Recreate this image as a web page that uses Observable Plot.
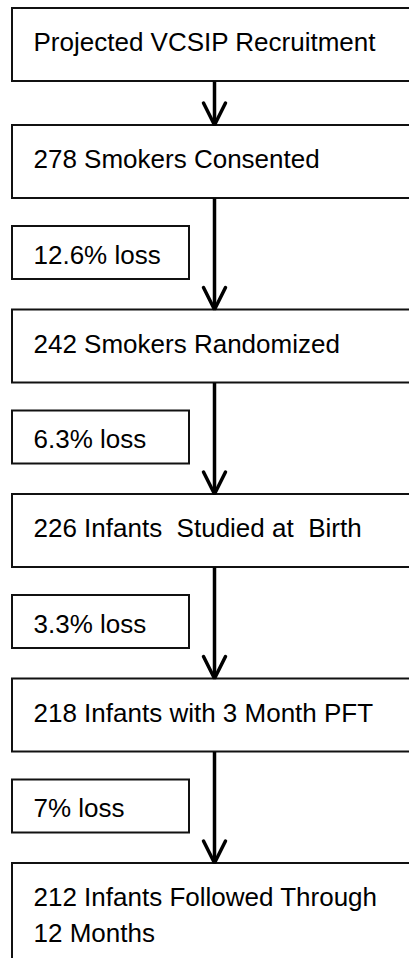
<!DOCTYPE html>
<html>
<head>
<meta charset="utf-8">
<script src="https://cdn.jsdelivr.net/npm/d3@7"></script>
<script src="https://cdn.jsdelivr.net/npm/@observablehq/plot@0.6"></script>
<style>
  html, body { margin: 0; padding: 0; background: #fff; overflow: hidden; }
</style>
</head>
<body>
<div id="chart"></div>
<script>
// ---- Data ----
const stepCounts = [null, 278, 242, 226, 218, 212];
const stepLabels = [
  "Projected VCSIP Recruitment",
  "278 Smokers Consented",
  "242 Smokers Randomized",
  "226 Infants\u00A0 Studied at\u00A0 Birth",
  "218 Infants with 3 Month PFT",
  "212 Infants Followed Through\n12 Months"
];
const lossPercents = [12.6, 6.3, 3.3, 7];
const lossLabels = ["12.6% loss", "6.3% loss", "3.3% loss", "7% loss"];

// ---- Layout (flowchart geometry) ----
const W = 409, H = 958;
const boxTop = i => i === 0 ? 8 : 125 + (i - 1) * 184.5;
const boxH = 73;
const boxBottom = i => i === stepLabels.length - 1 ? H + 20 : boxTop(i) + boxH;
const lossTop = k => boxTop(k + 1) + 101;
const lossH = 53;
const arrowX = 214;

const steps = stepLabels.map((label, i) => ({i, label, count: stepCounts[i]}));
const losses = lossLabels.map((label, k) => ({k, label, pct: lossPercents[k]}));
const arrows = d3.range(stepLabels.length - 1).map(i => ({id: i, y1: boxTop(i) + boxH, y2: boxTop(i + 1) - 0.5}));
const heads = arrows.flatMap(a => [
  {id: a.id, x: arrowX - 11, y: a.y2 - 22},
  {id: a.id, x: arrowX, y: a.y2},
  {id: a.id, x: arrowX + 11, y: a.y2 - 22}
]);

const font = "'Liberation Sans', Arial, Helvetica, sans-serif";

const chart = Plot.plot({
  width: W,
  height: H,
  margin: 0,
  x: {domain: [0, W], range: [0, W], axis: null},
  y: {domain: [0, H], range: [0, H], axis: null},
  style: {background: "#fff", fontFamily: font},
  marks: [
    Plot.rect(steps, {
      x1: () => 12, x2: () => 412,
      y1: d => boxTop(d.i), y2: d => boxBottom(d.i),
      fill: "#fff", stroke: "#111", strokeWidth: 2
    }),
    Plot.rect(losses, {
      x1: () => 12, x2: () => 189,
      y1: d => lossTop(d.k), y2: d => lossTop(d.k) + lossH,
      fill: "#fff", stroke: "#111", strokeWidth: 2
    }),
    Plot.link(arrows, {
      x1: () => arrowX, x2: () => arrowX,
      y1: "y1", y2: d => d.y2 - 2,
      stroke: "#000", strokeWidth: 3.5
    }),
    Plot.line(heads, {
      x: "x", y: "y", z: "id",
      stroke: "#000", strokeWidth: 3.5, strokeLinejoin: "miter", curve: "linear"
    }),
    Plot.text(steps, {
      x: () => 33, y: d => boxTop(d.i) + 18,
      text: "label", textAnchor: "start", lineAnchor: "top",
      lineHeight: 1.35, fontSize: 26, fill: "#000", fontFamily: font
    }),
    Plot.text(losses, {
      x: () => 33, y: d => lossTop(d.k) + 19,
      text: "label", textAnchor: "start", lineAnchor: "top",
      fontSize: 26, fill: "#000", fontFamily: font
    })
  ]
});
document.getElementById("chart").appendChild(chart);
</script>
</body>
</html>
